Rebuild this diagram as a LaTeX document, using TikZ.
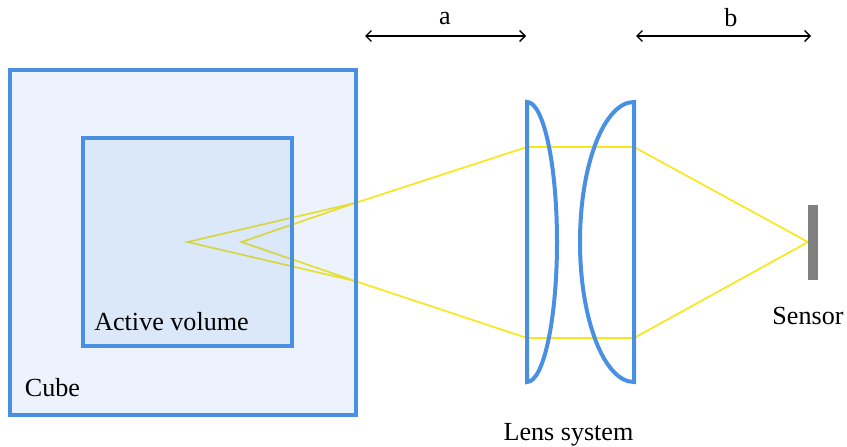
\documentclass[tikz,border=0pt]{standalone}
\usepackage{fontspec}
\setmainfont{Liberation Serif}
\usetikzlibrary{arrows.meta}
\definecolor{bluel}{HTML}{4A90E2}
\definecolor{rayc}{HTML}{F8E71C}
\definecolor{sens}{HTML}{808080}
\tikzset{
  x=1pt,y=-1pt,
  ray/.style={draw=rayc,line width=1.7pt,line join=miter},
  panel/.style={draw=bluel,line width=4pt,fill=bluel,fill opacity=.1,draw opacity=1,inner sep=0pt,outer sep=0pt},
  lens/.style={draw=bluel,line width=4pt,line join=miter},
  dim/.style={draw=black,line width=1.3pt,{Straight Barb[length=5.5pt,width=11pt,line width=1.3pt]}-{Straight Barb[length=5.5pt,width=11pt,line width=1.3pt]}},
  lbl/.style={font=\fontsize{26.1}{30}\selectfont,text=black,inner sep=0pt,anchor=base},
}
\begin{document}
\begin{tikzpicture}
\useasboundingbox (0,0) rectangle (847,447);
\fill[white] (0,0) rectangle (847,447);
% ray points
\coordinate (f1) at (187.5,242);
\coordinate (f2) at (241.5,242);
\coordinate (ut) at (355,203);
\coordinate (ub) at (355,281);
\coordinate (l1t) at (527,147);
\coordinate (l1b) at (527,338);
\coordinate (l2t) at (634,147);
\coordinate (l2b) at (634,338);
\coordinate (s) at (808,242);
\draw[ray] (f1) -- (ut) -- (l1t) -- (l2t) -- (s) -- (l2b) -- (l1b) -- (ub) -- cycle;
\draw[ray] (ut) -- (f2) -- (ub);
% panels
\node[panel,minimum width=346pt,minimum height=345pt] (cube) at (183,242.5) {};
\node[panel,minimum width=209pt,minimum height=208pt] (active) at (187.5,242) {};
% lenses
\draw[lens] (527,102) arc[start angle=-90,end angle=90,x radius=30,y radius=140] -- cycle;
\draw[lens] (634,102) arc[start angle=-90,end angle=-270,x radius=54,y radius=140] -- cycle;
% sensor
\fill[sens] (808,205) rectangle (818,280);
\node[inner sep=0pt] (sensor) at (813,242.5) {};
% dimensions
\coordinate (a1) at (365,36);
\coordinate (a2) at (526,36);
\coordinate (b1) at (636,36);
\coordinate (b2) at (811,36);
\draw[dim] (a1) -- (a2);
\draw[dim] (b1) -- (b2);
% labels
\node[lbl] (la) at (445,24) {a};
\node[lbl] (lb) at (731,27) {b};
\node[lbl] (lav) at (171.5,330) {Active volume};
\node[lbl] (lc) at (52.5,396) {Cube};
\node[lbl] (ll) at (568.5,440) {Lens system};
\node[lbl] (ls) at (808,324) {Sensor};
\end{tikzpicture}
\end{document}
